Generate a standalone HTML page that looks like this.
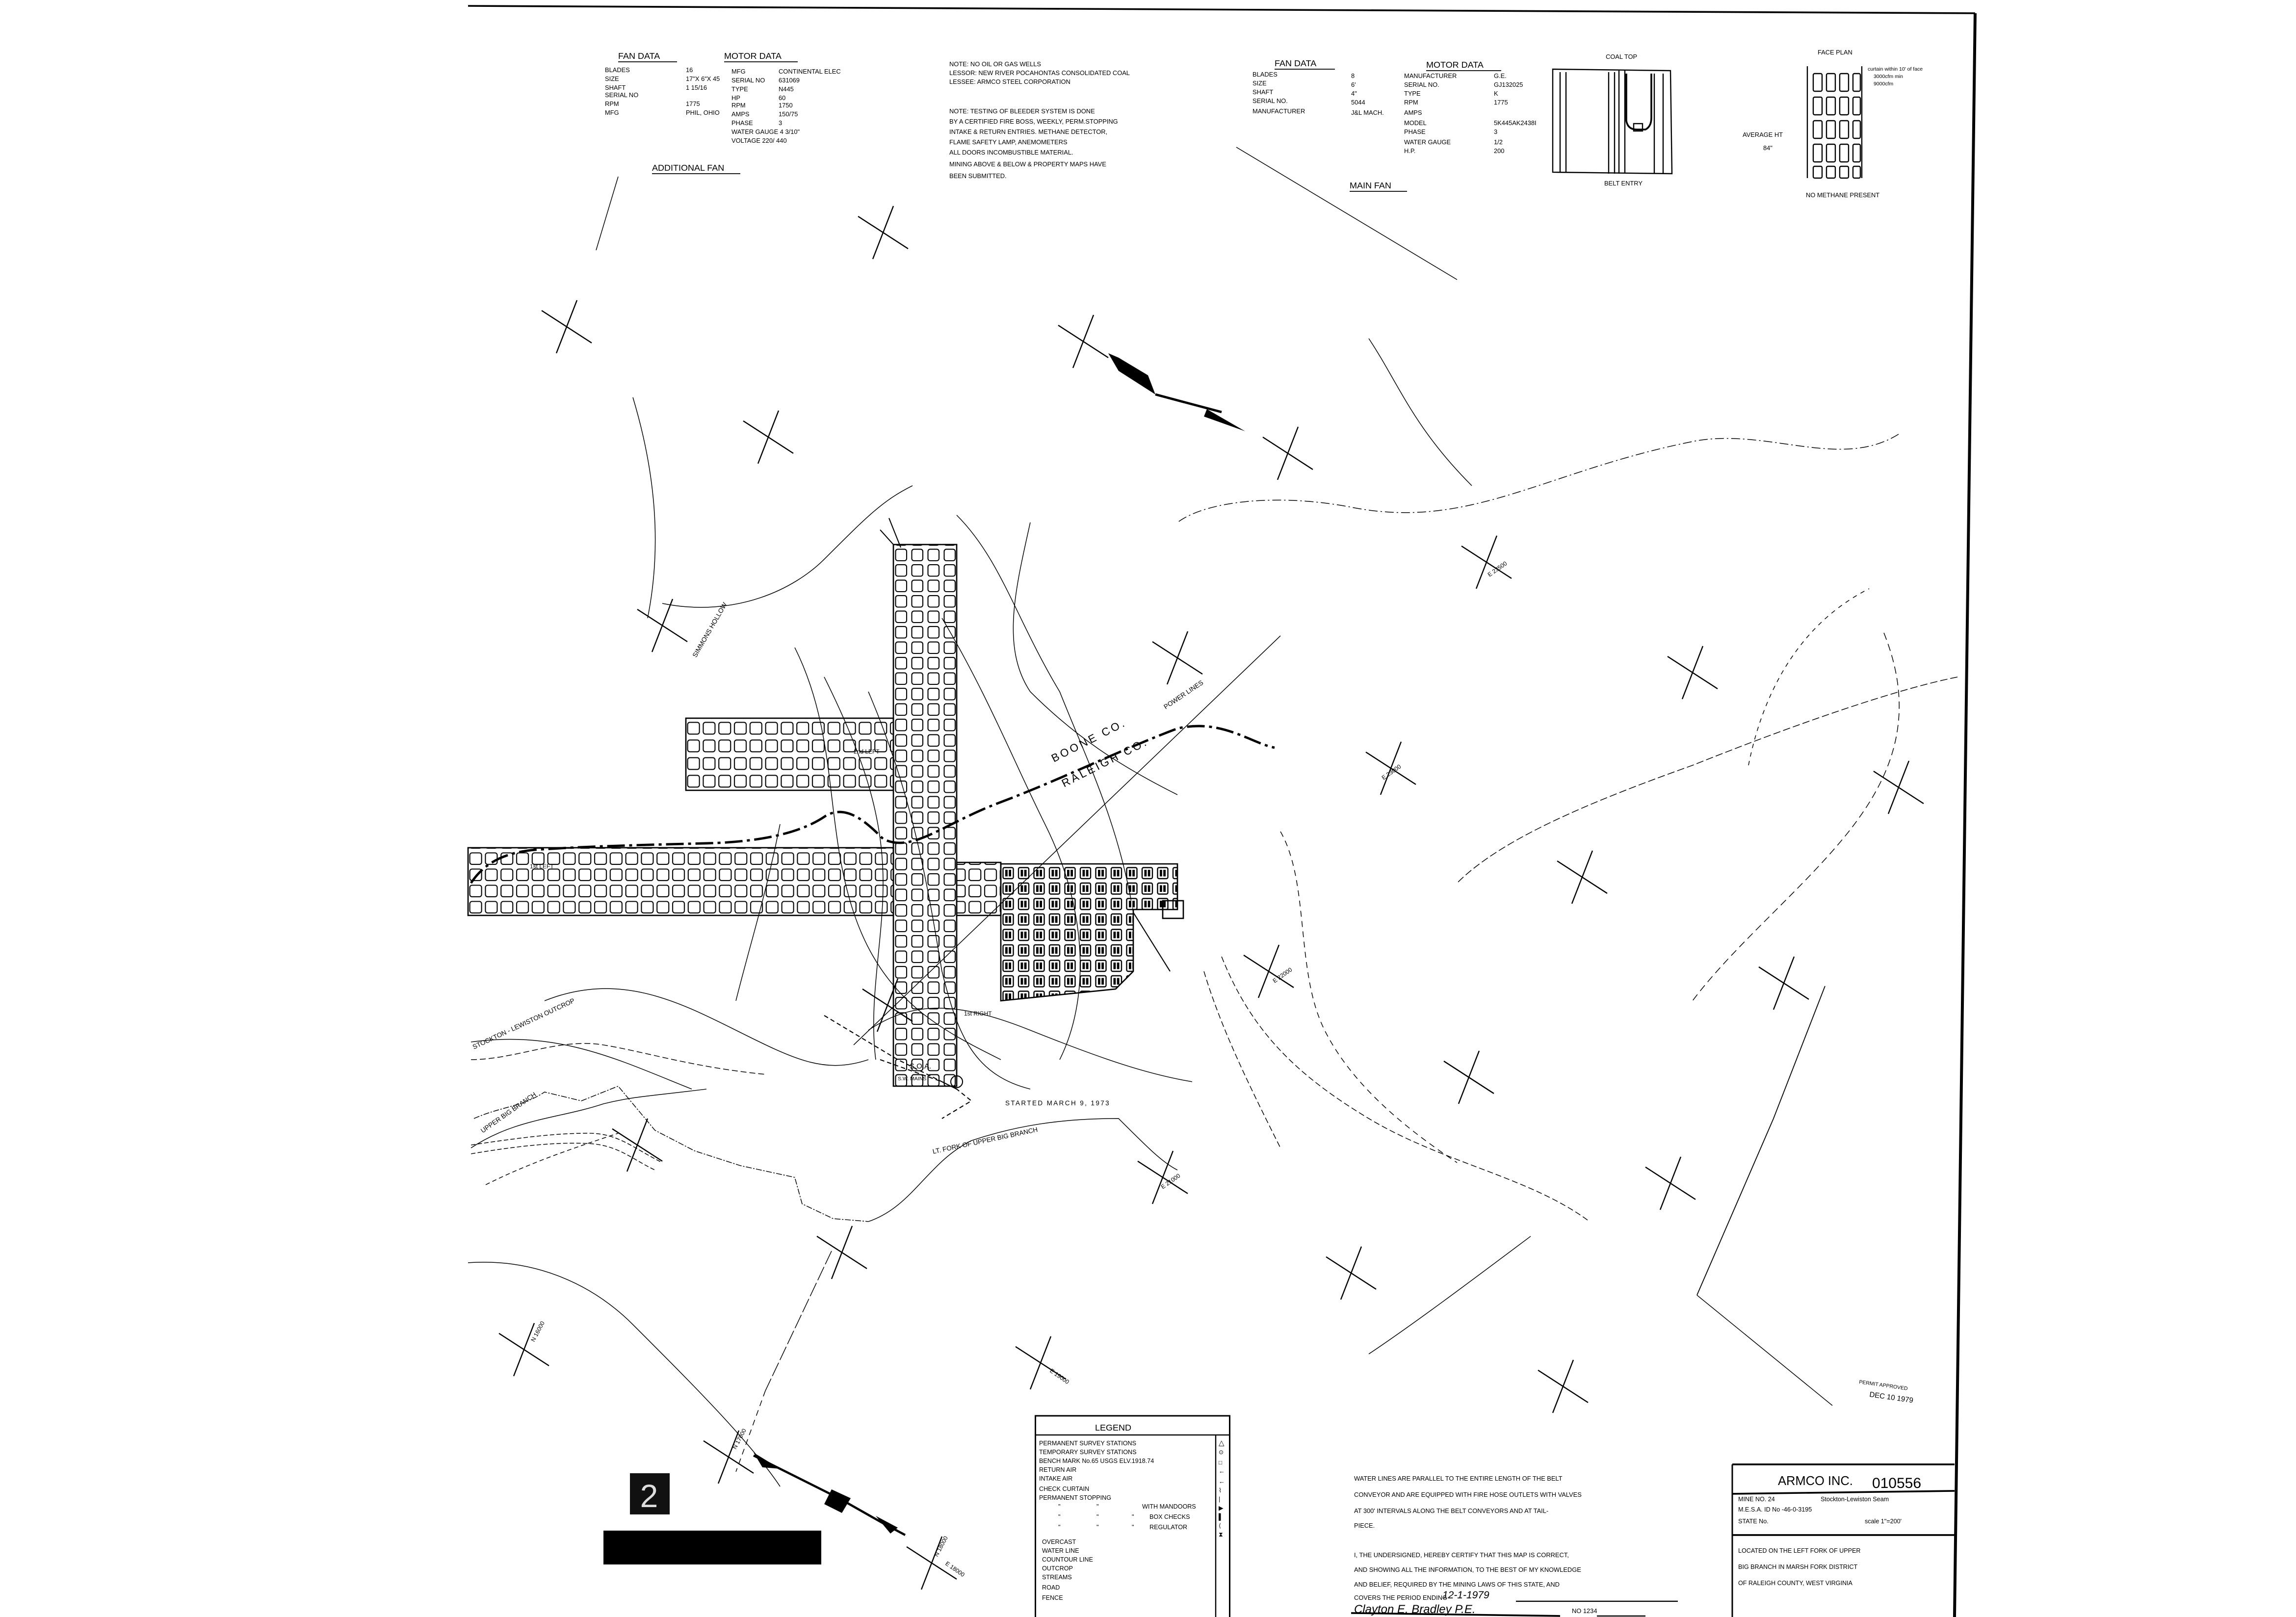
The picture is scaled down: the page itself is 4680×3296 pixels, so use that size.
<!DOCTYPE html>
<html><head><meta charset="utf-8"><style>
html,body{margin:0;padding:0;background:#fff;}
svg{display:block;}
text{font-family:"Liberation Sans",sans-serif;fill:#000;}
</style></head><body>
<svg width="4680" height="3296" viewBox="0 0 1560 1098.7" xmlns="http://www.w3.org/2000/svg">
<defs>
<symbol id="x" overflow="visible"><line x1="-17" y1="-11" x2="17" y2="11" stroke="#000" stroke-width="0.8"/><line x1="-7" y1="18" x2="7" y2="-18" stroke="#000" stroke-width="0.8"/></symbol>
<pattern id="pv" x="607" y="372" width="11" height="10.5" patternUnits="userSpaceOnUse"><rect x="1.5" y="1.2" width="7.5" height="7.8" rx="1.5" fill="none" stroke="#000" stroke-width="0.7"/></pattern>
<pattern id="ph" x="318" y="578" width="10.6" height="11" patternUnits="userSpaceOnUse"><rect x="1.2" y="1.5" width="8" height="7.8" rx="1.5" fill="none" stroke="#000" stroke-width="0.7"/></pattern>
<pattern id="pl" x="466" y="489" width="10.6" height="12" patternUnits="userSpaceOnUse"><rect x="1.2" y="1.8" width="8" height="8" rx="1.5" fill="none" stroke="#000" stroke-width="0.7"/></pattern>
<pattern id="pr" x="680" y="588" width="10.5" height="10.5" patternUnits="userSpaceOnUse"><rect x="1.5" y="1.5" width="7" height="7.5" rx="1" fill="none" stroke="#000" stroke-width="0.8"/><rect x="3" y="3" width="4" height="4.5" fill="#000"/><line x1="5" y1="2" x2="5" y2="8.5" stroke="#fff" stroke-width="0.8"/></pattern>
</defs>
<g fill="none" stroke="#000">
<path d="M318 4 L1342 9" stroke-width="1.2"/>
<path d="M1342 9 L1328 1099" stroke-width="2"/>
</g>
<g>
<use href="#x" x="600" y="158"/><use href="#x" x="385" y="222"/><use href="#x" x="522" y="297"/><use href="#x" x="736" y="232"/>
<use href="#x" x="875" y="308"/><use href="#x" x="1010" y="382"/><use href="#x" x="800" y="447"/><use href="#x" x="1150" y="457"/>
<use href="#x" x="945" y="522"/><use href="#x" x="1075" y="596"/><use href="#x" x="1212" y="668"/><use href="#x" x="862" y="660"/>
<use href="#x" x="998" y="732"/><use href="#x" x="790" y="800"/><use href="#x" x="433" y="778"/>
<use href="#x" x="572" y="851"/><use href="#x" x="1290" y="535"/><use href="#x" x="1062" y="942"/><use href="#x" x="450" y="425"/>
<use href="#x" x="603" y="683"/><use href="#x" x="918" y="865"/><use href="#x" x="356" y="917"/><use href="#x" x="495" y="990"/>
<use href="#x" x="633" y="1062"/><use href="#x" x="707" y="926"/><use href="#x" x="1135" y="804"/>
</g>
<g fill="none" stroke="#000" stroke-width="0.5">
<path d="M1290 295 C1250 320 1200 290 1150 300 C1050 320 1000 360 920 345 C870 335 820 340 800 355" stroke-dasharray="6 2 1 2"/>
<path d="M1330 460 C1280 470 1200 500 1150 520 C1080 545 1020 570 990 600" stroke-dasharray="5 2"/>
<path d="M1280 430 C1300 480 1290 520 1260 560 C1230 600 1180 640 1150 680" stroke-dasharray="5 3"/>
<path d="M830 650 C850 700 880 730 930 760 C980 790 1040 800 1080 830" stroke-dasharray="4 2"/>
<path d="M700 355 C690 400 680 440 700 470 C730 500 760 520 800 540"/>
<path d="M430 270 C445 320 450 370 440 420"/>
<path d="M450 410 C500 420 540 400 560 380 C590 350 600 340 620 330"/>
<path d="M650 350 C680 380 690 420 720 470 C740 520 760 560 770 620"/>
<path d="M640 420 C670 470 690 520 710 560 C740 620 740 680 720 720"/>
<path d="M560 460 C590 520 600 560 600 600 C600 640 590 680 595 720"/>
<path d="M590 470 C620 540 630 600 640 660 C650 700 660 730 700 740"/>
<path d="M540 440 C570 500 560 560 580 620 C600 680 640 700 680 720"/>
<path d="M530 560 C520 610 510 640 500 680"/>
<path d="M370 680 C420 660 460 680 500 700 C540 720 560 730 590 720"/>
<path d="M590 700 C620 680 650 680 700 700 C750 720 780 730 810 735"/>
<path d="M818 660 C830 700 850 740 870 780" stroke-dasharray="4 2"/>
<path d="M320 780 C350 760 380 760 410 750 C430 745 440 745 480 740"/>
<path d="M320 708 C380 700 420 720 470 740"/>
<path d="M330 805 C360 790 390 780 420 770" stroke-dasharray="3 2"/>
<path d="M318 858 C360 855 400 870 430 900 C470 940 510 980 530 1010"/>
<path d="M1040 840 C1000 870 960 900 930 920"/>
<path d="M930 230 C950 260 960 290 1000 330"/>
<path d="M840 100 L990 190"/>
<path d="M420 120 L405 170"/>
<path d="M870 565 C890 600 880 660 900 700 C920 740 960 770 990 790" stroke-dasharray="4 3"/>
<path d="M580 710 L870 432"/>
<path d="M320 778 C360 772 380 770 400 770 C420 770 430 780 450 790" stroke-dasharray="3 1.5"/>
<path d="M320 784 C355 778 380 776 400 777 C420 778 430 788 445 795" stroke-dasharray="3 1.5"/>
<path d="M320 720 C350 720 380 705 410 710 C440 715 470 725 520 730" stroke-dasharray="4 2"/>
<path d="M322 760 C340 752 355 752 370 742 L395 748 L420 738 L445 768 L472 782 L503 792 L540 800 L545 818 L566 828 L590 830" stroke-dasharray="4 1 1 1"/>
<path d="M590 830 C620 820 630 790 660 775 C690 765 720 760 760 760 C780 780 790 790 800 795"/>
<path d="M1153 880 L1205 760 L1240 670" stroke-width="0.6"/>
<path d="M1153 880 L1245 955"/>
<path d="M565 850 L520 945" stroke-dasharray="10 2"/>
<path d="M520 945 L500 1000" stroke-dasharray="4 3"/>
<path d="M1188 520 C1200 460 1230 420 1270 400" stroke-dasharray="3 3"/>
<path d="M320 600 C330 585 345 578 370 577 C400 575 440 574 480 573 C520 572 545 565 560 555 C575 545 590 560 600 570 C620 580 640 560 680 545 C720 530 760 510 800 495 C830 488 850 505 866 508" stroke-width="1.6" stroke-dasharray="12 3 2 3"/>
</g>
<g stroke="#000" stroke-width="0.9">
<rect x="607" y="370" width="43" height="368" fill="url(#pv)"/>
<rect x="466" y="488" width="141" height="49" fill="url(#pl)"/>
<rect x="318" y="576" width="289" height="46" fill="url(#ph)"/>
<rect x="650" y="586" width="30" height="36" fill="url(#ph)"/>
<path d="M680 587 L800 587 L800 618 L770 618 L770 660 L758 672 L680 680 Z" fill="url(#pr)"/>
<rect x="790" y="612" width="14" height="12" fill="none"/>
</g>
<g fill="none" stroke="#000" stroke-width="0.7">
<path d="M607 370 L598 360 M604 352 L612 372"/>
<path d="M598 720 L640 735 L650 740 L660 748 L640 760" stroke-dasharray="3 2"/>
<path d="M560 690 L610 720 L650 740" stroke-dasharray="3 2"/>
<path d="M770 620 L795 660"/>
<circle cx="650" cy="735" r="4"/>
</g>
<g>
<path d="M753 240 L760 243 L780 255 L785 268 L760 252 Z" fill="#000"/>
<line x1="785" y1="268" x2="830" y2="280" stroke="#000" stroke-width="1.6"/>
<path d="M820 278 L846 293 L818 283 Z" fill="#000"/>
</g>
<g>
<path d="M512 989 L540 1003 L570 1018 L600 1035 L615 1043" stroke="#000" stroke-width="1.5" fill="none"/>
<path d="M512 987 L530 998 L518 997 Z" fill="#000"/>
<path d="M565 1012 L578 1018 L572 1028 L560 1022 Z" fill="#000"/>
<path d="M595 1030 L610 1038 L605 1042 Z" fill="#000"/>
<rect x="428" y="1001" width="27" height="28" fill="#111"/>
<text x="441" y="1024" font-size="22" style="fill:#ddd" text-anchor="middle">2</text>
<rect x="410" y="1040" width="148" height="23" fill="#000"/>
</g>
<g font-size="5.5">
<text transform="translate(716 518) rotate(-27)" font-size="7.5" letter-spacing="1.5">BOONE CO.</text>
<text transform="translate(723 535) rotate(-27)" font-size="7.5" letter-spacing="1.5">RALEIGH CO.</text>
<text transform="translate(792 482) rotate(-34)" font-size="4.5">POWER LINES</text>
<text transform="translate(473 447) rotate(-60)" font-size="4.5">SIMMONS HOLLOW</text>
<text transform="translate(322 713) rotate(-25)" font-size="4.5">STOCKTON - LEWISTON OUTCROP</text>
<text transform="translate(328 770) rotate(-35)" font-size="4.5">UPPER BIG BRANCH</text>
<text transform="translate(634 784) rotate(-12)" font-size="4.5">LT. FORK OF UPPER BIG BRANCH</text>
<text x="683" y="751" font-size="4.5" letter-spacing="0.8">STARTED MARCH 9, 1973</text>
<text transform="translate(1012 392) rotate(-35)" font-size="4">E 23500</text>
<text transform="translate(940 530) rotate(-35)" font-size="4">E 23000</text>
<text transform="translate(866 668) rotate(-35)" font-size="4">E 22000</text>
<text transform="translate(790 808) rotate(-35)" font-size="4">E 21000</text>
<text transform="translate(713 932) rotate(35)" font-size="4">E 19000</text>
<text transform="translate(363 912) rotate(-62)" font-size="4">N 16000</text>
<text transform="translate(500 985) rotate(-62)" font-size="4">N 17000</text>
<text transform="translate(637 1058) rotate(-62)" font-size="4">N 18000</text>
<text transform="translate(642 1063) rotate(35)" font-size="4">E 18000</text>
<text x="655" y="690" font-size="4">1st RIGHT</text>
<text x="580" y="512" font-size="4">2nd LEFT</text>
<text x="360" y="590" font-size="4">1st LEFT</text>
<text x="618" y="726" font-size="5">S.O.A.</text>
<text x="610" y="734" font-size="3.5">S.W. MAINS</text>
<text x="1263" y="940" font-size="3.5" transform="rotate(8 1263 940)">PERMIT APPROVED</text>
<text x="1270" y="949" font-size="5" transform="rotate(8 1270 949)">DEC 10 1979</text>
</g>
<g font-size="4.3">
<text x="420" y="40" font-size="6">FAN  DATA</text><line x1="420" y1="42" x2="460" y2="42" stroke="#000" stroke-width="0.6"/>
<text x="492" y="40" font-size="6">MOTOR  DATA</text><line x1="492" y1="42" x2="542" y2="42" stroke="#000" stroke-width="0.6"/>
<text x="411" y="49">BLADES</text><text x="466" y="49">16</text><text x="497" y="50">MFG</text><text x="529" y="50">CONTINENTAL  ELEC</text>
<text x="411" y="55">SIZE</text><text x="466" y="55">17"X 6"X 45</text><text x="497" y="56">SERIAL NO</text><text x="529" y="56">631069</text>
<text x="411" y="61">SHAFT</text><text x="466" y="61">1  15/16</text><text x="497" y="62">TYPE</text><text x="529" y="62">N445</text>
<text x="411" y="66">SERIAL NO</text><text x="497" y="68">HP</text><text x="529" y="68">60</text>
<text x="411" y="72">RPM</text><text x="466" y="72">1775</text><text x="497" y="73">RPM</text><text x="529" y="73">1750</text>
<text x="411" y="78">MFG</text><text x="466" y="78">PHIL, OHIO</text><text x="497" y="79">AMPS</text><text x="529" y="79">150/75</text>
<text x="497" y="85">PHASE</text><text x="529" y="85">3</text>
<text x="497" y="91">WATER GAUGE  4 3/10"</text>
<text x="497" y="97">VOLTAGE      220/ 440</text>
<text x="443" y="116" font-size="6">ADDITIONAL   FAN</text><line x1="443" y1="118" x2="503" y2="118" stroke="#000" stroke-width="0.6"/>
<text x="645" y="45">NOTE: NO OIL OR GAS WELLS</text>
<text x="645" y="51">LESSOR: NEW RIVER POCAHONTAS CONSOLIDATED COAL</text>
<text x="645" y="57">LESSEE: ARMCO STEEL CORPORATION</text>
<text x="645" y="77">NOTE: TESTING OF BLEEDER SYSTEM IS DONE</text>
<text x="645" y="84">BY A CERTIFIED FIRE BOSS, WEEKLY, PERM.STOPPING</text>
<text x="645" y="91">INTAKE &amp; RETURN  ENTRIES. METHANE DETECTOR,</text>
<text x="645" y="98">FLAME SAFETY LAMP, ANEMOMETERS</text>
<text x="645" y="105">ALL DOORS INCOMBUSTIBLE MATERIAL.</text>
<text x="645" y="113">MINING ABOVE &amp; BELOW &amp; PROPERTY MAPS HAVE</text>
<text x="645" y="121">BEEN SUBMITTED.</text>
</g>
<g font-size="4.3">
<text x="866" y="45" font-size="6">FAN  DATA</text><line x1="866" y1="47" x2="907" y2="47" stroke="#000" stroke-width="0.6"/>
<text x="969" y="46" font-size="6">MOTOR  DATA</text><line x1="969" y1="48" x2="1020" y2="48" stroke="#000" stroke-width="0.6"/>
<text x="851" y="52">BLADES</text><text x="918" y="53">8</text><text x="954" y="53">MANUFACTURER</text><text x="1015" y="53">G.E.</text>
<text x="851" y="58">SIZE</text><text x="918" y="59">6'</text><text x="954" y="59">SERIAL NO.</text><text x="1015" y="59">GJ132025</text>
<text x="851" y="64">SHAFT</text><text x="918" y="65">4"</text><text x="954" y="65">TYPE</text><text x="1015" y="65">K</text>
<text x="851" y="70">SERIAL NO.</text><text x="918" y="71">5044</text><text x="954" y="71">RPM</text><text x="1015" y="71">1775</text>
<text x="851" y="77">MANUFACTURER</text><text x="918" y="78">J&amp;L MACH.</text><text x="954" y="78">AMPS</text>
<text x="954" y="85">MODEL</text><text x="1015" y="85">5K445AK2438I</text>
<text x="954" y="91">PHASE</text><text x="1015" y="91">3</text>
<text x="954" y="98">WATER GAUGE</text><text x="1015" y="98">1/2</text>
<text x="954" y="104">H.P.</text><text x="1015" y="104">200</text>
<text x="917" y="128" font-size="6">MAIN   FAN</text><line x1="917" y1="130" x2="956" y2="130" stroke="#000" stroke-width="0.6"/>
<text x="1091" y="40">COAL  TOP</text>
<text x="1090" y="126">BELT  ENTRY</text>
<text x="1184" y="93">AVERAGE  HT</text>
<text x="1198" y="102">84"</text>
<text x="1235" y="37">FACE  PLAN</text>
<text x="1227" y="134">NO METHANE PRESENT</text>
<text x="1269" y="48" font-size="3.5">curtain within 10' of face</text>
<text x="1273" y="53" font-size="3.5">3000cfm min</text>
<text x="1273" y="58" font-size="3.5">9000cfm</text>
</g>
<g fill="none" stroke="#000" stroke-width="0.8">
<path d="M1055 47 L1135 48 L1136 118 L1055 117 Z"/>
<path d="M1060 49 L1060 117 M1064 49 L1064 117 M1093 49 L1093 118 M1097 49 L1097 118 M1124 50 L1124 118 M1130 50 L1130 118 M1100 48 L1100 118 M1104 48 L1104 118"/>
<path d="M1105 50 L1105 82 Q1106 88 1112 88 L1118 88 Q1122 86 1122 80 L1122 50" stroke-width="1.2"/>
<rect x="1110" y="84" width="6" height="5"/>
<path d="M1228 45 L1228 121 M1265 45 L1265 121"/>
<g>
<rect x="1232" y="50" width="6" height="12" rx="1"/><rect x="1241" y="50" width="6" height="12" rx="1"/><rect x="1250" y="50" width="6" height="12" rx="1"/><rect x="1259" y="50" width="5" height="12" rx="1"/>
<rect x="1232" y="66" width="6" height="12" rx="1"/><rect x="1241" y="66" width="6" height="12" rx="1"/><rect x="1250" y="66" width="6" height="12" rx="1"/><rect x="1259" y="66" width="5" height="12" rx="1"/>
<rect x="1232" y="82" width="6" height="12" rx="1"/><rect x="1241" y="82" width="6" height="12" rx="1"/><rect x="1250" y="82" width="6" height="12" rx="1"/><rect x="1259" y="82" width="5" height="12" rx="1"/>
<rect x="1232" y="98" width="6" height="12" rx="1"/><rect x="1241" y="98" width="6" height="12" rx="1"/><rect x="1250" y="98" width="6" height="12" rx="1"/><rect x="1259" y="98" width="5" height="12" rx="1"/>
<rect x="1232" y="113" width="6" height="8" rx="1"/><rect x="1241" y="113" width="6" height="8" rx="1"/><rect x="1250" y="113" width="6" height="8" rx="1"/><rect x="1259" y="113" width="5" height="8" rx="1"/>
</g>
</g>
<g fill="none" stroke="#000">
<rect x="703.5" y="962" width="132" height="138" stroke-width="1"/>
<line x1="703.5" y1="975" x2="835.5" y2="975" stroke-width="0.8"/>
<line x1="826" y1="975" x2="826" y2="1099" stroke-width="0.8"/>
</g>
<g font-size="4.2">
<text x="744" y="972" font-size="6">LEGEND</text>
<text x="706" y="982">PERMANENT  SURVEY  STATIONS</text>
<text x="706" y="988">TEMPORARY  SURVEY  STATIONS</text>
<text x="706" y="994">BENCH MARK No.65 USGS ELV.1918.74</text>
<text x="706" y="1000">RETURN AIR</text>
<text x="706" y="1006">INTAKE  AIR</text>
<text x="706" y="1013">CHECK CURTAIN</text>
<text x="706" y="1019">PERMANENT STOPPING</text>
<text x="776" y="1025">WITH MANDOORS</text>
<text x="719" y="1025">"</text><text x="745" y="1025">"</text>
<text x="719" y="1032">"</text><text x="745" y="1032">"</text><text x="769" y="1032">"</text><text x="781" y="1032">BOX CHECKS</text>
<text x="719" y="1039">"</text><text x="745" y="1039">"</text><text x="769" y="1039">"</text><text x="781" y="1039">REGULATOR</text>
<text x="708" y="1049">OVERCAST</text>
<text x="708" y="1055">WATER LINE</text>
<text x="708" y="1061">COUNTOUR LINE</text>
<text x="708" y="1067">OUTCROP</text>
<text x="708" y="1073">STREAMS</text>
<text x="708" y="1080">ROAD</text>
<text x="708" y="1087">FENCE</text>
<text x="828" y="982" font-size="5">△</text>
<text x="828" y="988" font-size="4">⊙</text>
<text x="828" y="995" font-size="4">□</text>
<text x="828" y="1001">←</text><text x="828" y="1008">←</text><text x="828" y="1014">⌇</text><text x="828" y="1020">|</text>
<text x="828" y="1026">▶</text><text x="828" y="1032">▌</text><text x="828" y="1038">⟨</text><text x="828" y="1044">⧗</text>
</g>
<g font-size="4.3">
<text x="920" y="1006">WATER LINES ARE PARALLEL TO THE ENTIRE LENGTH OF THE BELT</text>
<text x="920" y="1017">CONVEYOR AND ARE EQUIPPED WITH FIRE HOSE OUTLETS WITH VALVES</text>
<text x="920" y="1028">AT 300' INTERVALS ALONG THE BELT CONVEYORS AND AT TAIL-</text>
<text x="920" y="1038">PIECE.</text>
<text x="920" y="1058">I, THE UNDERSIGNED, HEREBY CERTIFY THAT THIS MAP IS CORRECT,</text>
<text x="920" y="1068">AND SHOWING ALL THE INFORMATION, TO THE BEST OF MY KNOWLEDGE</text>
<text x="920" y="1078">AND BELIEF, REQUIRED BY THE MINING LAWS OF THIS STATE, AND</text>
<text x="920" y="1087">COVERS THE PERIOD ENDING</text>
<text x="1068" y="1096">NO  1234</text>
<text x="980" y="1086" font-size="7" font-style="italic">12-1-1979</text>
<text x="920" y="1096" font-size="8" font-style="italic">Clayton E. Bradley P.E.</text>
</g>
<g stroke="#000" fill="none">
<line x1="1030" y1="1088" x2="1140" y2="1088" stroke-width="0.8"/>
<line x1="918" y1="1096" x2="1060" y2="1098" stroke-width="1.2"/>
<line x1="1085" y1="1098" x2="1118" y2="1098" stroke-width="0.8"/>
</g>
<g fill="none" stroke="#000">
<path d="M1177 995 L1328 995" stroke-width="1.2"/>
<path d="M1177 995 L1177 1099" stroke-width="1"/>
<path d="M1177 1015 L1328 1013" stroke-width="1.2"/>
<path d="M1177 1043 L1328 1043" stroke-width="1.2"/>
</g>
<g font-size="4.2">
<text x="1208" y="1009" font-size="8.5">ARMCO   INC.</text>
<text x="1272" y="1011" font-size="10" font-family="Liberation Serif">010556</text>
<text x="1181" y="1020">MINE NO. 24</text><text x="1237" y="1020">Stockton-Lewiston  Seam</text>
<text x="1181" y="1027">M.E.S.A.  ID No -46-0-3195</text>
<text x="1181" y="1035">STATE  No.</text><text x="1267" y="1035">scale 1"=200'</text>
<text x="1181" y="1055">LOCATED ON THE LEFT FORK OF UPPER</text>
<text x="1181" y="1066">BIG BRANCH  IN  MARSH  FORK DISTRICT</text>
<text x="1181" y="1077">OF RALEIGH  COUNTY, WEST VIRGINIA</text>
</g>
</svg>
</body></html>
